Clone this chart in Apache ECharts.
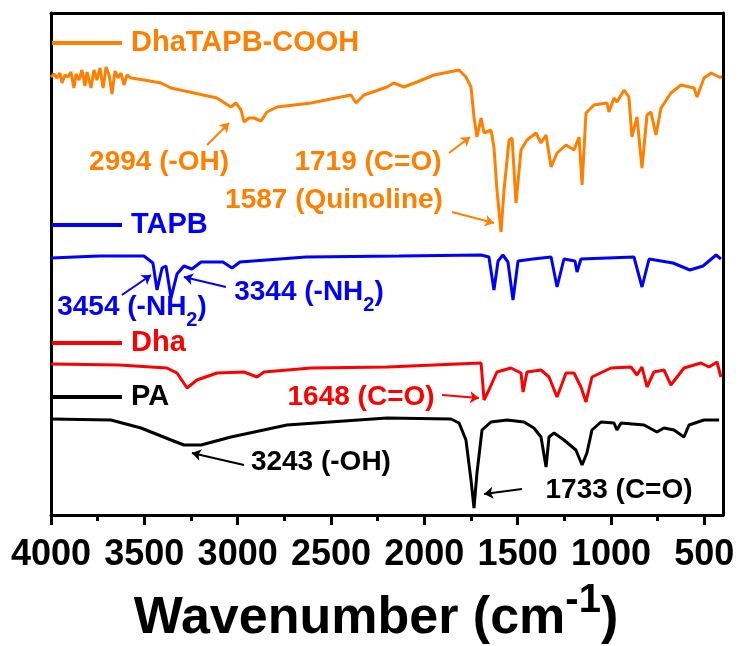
<!DOCTYPE html>
<html>
<head>
<meta charset="utf-8">
<script src="https://cdn.jsdelivr.net/npm/echarts@6/dist/echarts.min.js"></script>
<style>
  html, body { margin: 0; padding: 0; background: #fff; }
  #ftir { width: 739px; height: 646px; }
</style>
</head>
<body>
<div id="ftir"></div>
<script>
// x: wavenumber (cm-1), y: offset transmittance (a.u.)
var dhaTapbCooh = [
  [4000, 87.6], [3984, 88.2], [3968, 87.4], [3952, 88.4], [3941, 86.4], [3925, 88.0],
  [3909, 87.6], [3893, 88.6], [3877, 85.4], [3866, 88.2], [3850, 87.0], [3834, 89.0],
  [3818, 85.8], [3807, 88.6], [3786, 85.4], [3770, 89.0], [3754, 87.0], [3737, 89.4],
  [3721, 85.4], [3705, 89.6], [3689, 88.0], [3673, 84.2], [3657, 88.8], [3641, 87.4],
  [3625, 88.4], [3609, 86.0], [3593, 88.0], [3571, 87.4], [3502, 87.0], [3411, 86.4],
  [3357, 85.4], [3234, 84.4], [3111, 83.4], [3036, 81.6], [3009, 82.4], [2982, 81.0],
  [2966, 78.6], [2939, 79.4], [2912, 79.4], [2875, 78.8], [2843, 80.6], [2789, 81.6],
  [2607, 82.4], [2393, 84.0], [2366, 82.4], [2323, 84.0], [2200, 85.6], [2163, 86.4],
  [2109, 85.6], [2039, 86.6], [1948, 88.0], [1814, 89.0], [1777, 87.6], [1750, 85.6],
  [1734, 79.6], [1718, 75.6], [1696, 79.4], [1680, 76.4], [1643, 77.0], [1627, 73.6],
  [1611, 65.0], [1589, 56.6], [1573, 65.0], [1546, 75.0], [1530, 75.4], [1509, 62.4],
  [1482, 73.0], [1450, 75.0], [1402, 76.4], [1375, 74.4], [1348, 76.0], [1321, 69.6],
  [1289, 72.4], [1241, 74.0], [1198, 73.0], [1171, 75.6], [1155, 66.0], [1134, 80.4],
  [1091, 82.0], [1021, 82.4], [1011, 80.6], [984, 83.4], [968, 82.6], [930, 85.0],
  [904, 83.6], [888, 75.6], [861, 79.6], [834, 69.4], [807, 80.0], [786, 80.6],
  [759, 76.0], [732, 81.4], [679, 84.4], [625, 86.0], [555, 85.4], [539, 83.6],
  [502, 87.4], [464, 88.4], [421, 87.6], [405, 87.6]
];
var tapb = [
  [4000, 51.4], [3743, 51.8], [3502, 51.8], [3454, 50.4], [3432, 45.0], [3405, 49.4],
  [3384, 49.8], [3357, 43.4], [3325, 48.2], [3288, 49.8], [3245, 49.2], [3196, 50.6],
  [3079, 50.6], [3030, 49.4], [2988, 50.6], [2634, 51.6], [2136, 51.8], [1696, 52.0],
  [1654, 51.6], [1627, 45.0], [1605, 50.8], [1579, 52.0], [1552, 50.6], [1525, 43.0],
  [1498, 50.8], [1418, 51.2], [1321, 51.6], [1289, 45.6], [1252, 51.2], [1193, 50.8],
  [1182, 48.6], [1161, 51.2], [877, 51.6], [834, 45.6], [796, 51.2], [668, 50.4],
  [577, 49.0], [507, 49.8], [437, 52.0], [411, 51.2]
];
var dha = [
  [4000, 30.2], [3636, 30.0], [3379, 29.4], [3325, 28.4], [3271, 25.4], [3218, 27.0],
  [3111, 28.4], [2966, 28.6], [2896, 27.6], [2859, 28.6], [2607, 29.4], [2200, 29.6],
  [1696, 30.4], [1680, 23.0], [1654, 25.0], [1611, 28.6], [1536, 29.4], [1482, 28.4],
  [1471, 24.6], [1450, 28.6], [1375, 29.0], [1332, 27.6], [1289, 23.6], [1241, 28.4],
  [1198, 28.4], [1161, 25.6], [1134, 22.6], [1102, 27.6], [1000, 29.4], [893, 29.6],
  [861, 28.0], [834, 29.6], [807, 25.6], [770, 28.6], [716, 29.0], [679, 26.0],
  [609, 29.4], [518, 30.4], [475, 29.6], [432, 30.6], [411, 27.6]
];
var pa = [
  [4000, 19.2], [3679, 19.0], [3518, 17.4], [3357, 15.0], [3288, 14.0], [3196, 14.0],
  [3036, 15.6], [2736, 18.0], [2430, 18.8], [2200, 19.4], [1857, 19.2], [1814, 18.4],
  [1777, 15.0], [1750, 7.0], [1734, 1.4], [1718, 8.4], [1691, 17.0], [1643, 18.6],
  [1557, 19.0], [1466, 18.6], [1413, 17.4], [1375, 15.6], [1348, 9.6], [1332, 15.6],
  [1305, 16.4], [1252, 15.0], [1188, 13.0], [1155, 10.0], [1129, 12.4], [1102, 17.0],
  [1054, 18.6], [984, 18.4], [968, 17.0], [946, 18.4], [823, 18.0], [754, 16.6],
  [716, 17.4], [663, 17.0], [609, 15.6], [582, 18.0], [502, 19.0], [421, 19.0]
];

var majorTicks = [500, 1000, 1500, 2000, 2500, 3000, 3500, 4000];
var minorTicks = [750, 1250, 1750, 2250, 2750, 3250, 3750];

// peak labels: text position, arrow start, arrow end
var notesCooh = [
  { text: '2994 (-OH)', at: [3421, 70.6], from: [3164, 74.0], to: [3046, 78.4] },
  { text: '1719 (C=O)', at: [2302, 70.6], from: [1868, 72.4], to: [1755, 75.6] },
  { text: '1587 (Quinoline)', at: [2484, 63.0], from: [1852, 60.6], to: [1627, 58.4] }
];
var notesTapb = [
  { text: '3454 (-NH{sub|2})', at: [3566, 41.6], from: [3620, 44.0], to: [3464, 48.0] },
  { text: '3344 (-NH{sub|2})', at: [2618, 44.6], from: [3063, 45.6], to: [3288, 47.6] }
];
var notesDha = [
  { text: '1648 (C=O)', at: [2339, 23.6], from: [1905, 24.0], to: [1707, 23.4] }
];
var notesPa = [
  { text: '3243 (-OH)', at: [2554, 10.6], from: [2966, 10.0], to: [3245, 12.4] },
  { text: '1733 (C=O)', at: [957, 5.0], from: [1477, 5.2], to: [1680, 4.2] }
];

var FONT = '"Liberation Sans", Arial, sans-serif';

var chartDom = document.getElementById('ftir');
var chartFtir = echarts.init(chartDom, null, { renderer: 'canvas' });

function makeLegend(name, color, lineY) {
    return {
        data: [name],
        left: 52,
        top: lineY - 15,
        padding: 0,
        icon: 'rect',
        itemWidth: 70,
        itemHeight: 4,
        selectedMode: false,
        textStyle: {
            color: color, fontSize: 29, fontWeight: 'bold', fontFamily: FONT,
            lineHeight: 30, padding: [0, 0, 0, 4]
        }
    };
}

function makeSeries(name, color, data, notes) {
    return {
        name: name,
        type: 'line',
        data: data,
        showSymbol: false,
        color: color,
        lineStyle: { width: 3, color: color },
        silent: true,
        animation: false,
        markLine: {
            silent: true,
            animation: false,
            symbol: ['none', 'arrow'],
            symbolSize: 9,
            label: { show: false },
            lineStyle: { color: color, width: 2, type: 'solid' },
            emphasis: { disabled: true },
            data: notes.map(function (n) {
                return [{ coord: n.from }, { coord: n.to }];
            })
        },
        markPoint: {
            silent: true,
            animation: false,
            symbol: 'circle',
            symbolSize: 2,
            itemStyle: { color: 'rgba(0,0,0,0)' },
            label: {
                show: true,
                position: 'inside',
                color: color,
                fontSize: 28,
                fontWeight: 'bold',
                fontFamily: FONT,
                formatter: function (p) { return p.name; },
                rich: {
                    sub: { fontSize: 20, fontWeight: 'bold', fontFamily: FONT, color: color, padding: [26, 0, 0, 0] }
                }
            },
            data: notes.map(function (n) {
                return { name: n.text, coord: n.at };
            })
        }
    };
}

var optionFtir = {
    backgroundColor: '#fff',
    animation: false,
    grid: { left: 51, right: 16, top: 13, bottom: 131, outerBoundsMode: 'none', containLabel: false },
    legend: [
        makeLegend('DhaTAPB-COOH', '#FF8000', 43),
        makeLegend('TAPB', '#0000FF', 225),
        makeLegend('Dha', '#FF0000', 343),
        makeLegend('PA', '#000000', 397)
    ],
    xAxis: [
        {
            type: 'value', position: 'bottom', inverse: true, min: 400, max: 4000,
            splitLine: { show: false },
            axisLine: { lineStyle: { color: '#000', width: 3 } },
            axisTick: { customValues: majorTicks, length: 10, lineStyle: { color: '#000', width: 3 } },
            axisLabel: {
                customValues: majorTicks, margin: 22,
                color: '#000', fontSize: 36, fontWeight: 'bold', fontFamily: FONT,
                formatter: function (v) { return String(v); }
            },
            name: 'Wavenumber (cm{sup|-1})',
            nameLocation: 'middle',
            nameGap: 66,
            nameTextStyle: {
                color: '#000', fontSize: 52, fontWeight: 'bold', fontFamily: FONT,
                padding: [0, 22, 0, 0],
                rich: {
                    sup: { fontSize: 40, fontWeight: 'bold', fontFamily: FONT, color: '#000', padding: [0, 0, 36, 0] }
                }
            }
        },
        {
            type: 'value', position: 'bottom', inverse: true, min: 400, max: 4000,
            splitLine: { show: false },
            axisLine: { show: false },
            axisTick: { customValues: minorTicks, length: 6, lineStyle: { color: '#000', width: 3 } },
            axisLabel: { show: false }
        },
        {
            type: 'value', position: 'top', inverse: true, min: 400, max: 4000,
            splitLine: { show: false },
            axisLine: { lineStyle: { color: '#000', width: 3 } },
            axisTick: { show: false },
            axisLabel: { show: false }
        }
    ],
    yAxis: [
        {
            type: 'value', position: 'left', min: 0, max: 100.4,
            splitLine: { show: false },
            axisLine: { show: true, lineStyle: { color: '#000', width: 3 } },
            axisTick: { show: false },
            axisLabel: { show: false }
        },
        {
            type: 'value', position: 'right', min: 0, max: 100.4,
            splitLine: { show: false },
            axisLine: { show: true, lineStyle: { color: '#000', width: 3 } },
            axisTick: { show: false },
            axisLabel: { show: false }
        }
    ],
    series: [
        makeSeries('DhaTAPB-COOH', '#FF8000', dhaTapbCooh, notesCooh),
        makeSeries('TAPB', '#0000FF', tapb, notesTapb),
        makeSeries('Dha', '#FF0000', dha, notesDha),
        makeSeries('PA', '#000000', pa, notesPa)
    ]
};

chartFtir.setOption(optionFtir);
</script>
</body>
</html>
